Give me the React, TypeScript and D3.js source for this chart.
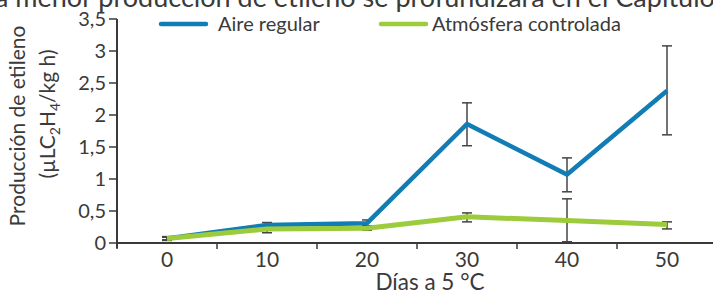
import React from "react";
import * as d3 from "d3";

const days = ["0", "10", "20", "30", "40", "50"];
const aireRegular = [0.07, 0.28, 0.31, 1.86, 1.07, 2.38];
const aireLow = [0.04, 0.22, 0.27, 1.52, 0.8, 1.69];
const aireHigh = [0.1, 0.32, 0.36, 2.19, 1.33, 3.08];
const atmosfera = [0.07, 0.22, 0.23, 0.41, 0.35, 0.29];
const atmLow = [0.05, 0.16, 0.2, 0.33, 0.02, 0.22];
const atmHigh = [0.09, 0.27, 0.26, 0.47, 0.69, 0.33];
const yTicks = [0, 0.5, 1, 1.5, 2, 2.5, 3, 3.5];

const W = 713;
const H = 292;
const BLUE = "#117db4";
const GREEN = "#9ccb3b";
const INK = "#3a3a3a";
const FONT = "Lato, 'Noto Sans', sans-serif";

const fmt = d3.formatLocale({ decimal: ",", thousands: ".", grouping: [3], currency: ["", "€"] }).format("~g");

const App: React.FC = () => {
  const x = d3.scaleBand<string>().domain(days).range([117, 717]).padding(0);
  const y = d3.scaleLinear().domain([0, 3.5]).range([243, 19]);
  const cx = (d: string) => (x(d) ?? 0) + x.bandwidth() / 2;

  const line = d3
    .line<number>()
    .x((_, i) => cx(days[i]))
    .y((v) => y(v));

  const series = [
    { name: "Aire regular", values: aireRegular, low: aireLow, high: aireHigh, color: BLUE, w: 4.5 },
    { name: "Atmósfera controlada", values: atmosfera, low: atmLow, high: atmHigh, color: GREEN, w: 5 },
  ];

  return (
    <svg width={W} height={H} style={{ position: "absolute", left: 0, top: 0 }} fontFamily={FONT}>
      <rect width={W} height={H} fill="#fff" />
      {/* cut-off caption above the figure */}
      <text x={-5} y={7} fontSize={27} fill={INK}>
        a menor producción de etileno se profundizará en el Capítulo
      </text>

      {/* y axis */}
      <line x1={117} x2={117} y1={y(3.5)} y2={y(0) + 5} stroke={INK} strokeWidth={2} />
      {yTicks.map((t) => (
        <g key={t}>
          <line x1={109} x2={117} y1={y(t)} y2={y(t)} stroke={INK} strokeWidth={1.5} />
          <text x={106} y={y(t)} dy="0.35em" textAnchor="end" fontSize={20} fill={INK}>
            {fmt(t)}
          </text>
        </g>
      ))}

      {/* x axis */}
      <line x1={117} x2={W} y1={y(0)} y2={y(0)} stroke={INK} strokeWidth={2} />
      {days.map((d) => (
        <g key={d}>
          <line x1={x(d)} x2={x(d)} y1={y(0)} y2={y(0) + 6} stroke={INK} strokeWidth={1.5} />
          <text x={cx(d)} y={267} textAnchor="middle" fontSize={21} fill={INK}>
            {d}
          </text>
        </g>
      ))}
      <text x={430} y={290} textAnchor="middle" fontSize={22.5} fill={INK}>
        Días a 5 °C
      </text>

      {/* y title */}
      <text transform="translate(25,126) rotate(-90)" textAnchor="middle" fontSize={21} fill={INK}>
        Producción de etileno
      </text>
      <text transform="translate(55,114) rotate(-90)" textAnchor="middle" fontSize={21} fill={INK}>
        (µLC<tspan fontSize={14} dy={5}>2</tspan>
        <tspan dy={-5}>H</tspan>
        <tspan fontSize={14} dy={5}>4</tspan>
        <tspan dy={-5}>/kg h)</tspan>
      </text>

      {/* error bars */}
      {series.map((s) =>
        s.values.map((_, i) => {
          const px = cx(days[i]);
          return (
            <g key={s.name + i} stroke="#444" strokeWidth={1.5}>
              <line x1={px} x2={px} y1={y(s.low[i])} y2={y(s.high[i])} />
              <line x1={px - 5} x2={px + 5} y1={y(s.low[i])} y2={y(s.low[i])} />
              <line x1={px - 5} x2={px + 5} y1={y(s.high[i])} y2={y(s.high[i])} />
            </g>
          );
        })
      )}

      {/* lines */}
      {series.map((s) => (
        <path key={s.name} d={line(s.values) ?? ""} fill="none" stroke={s.color} strokeWidth={s.w} strokeLinejoin="miter" />
      ))}

      {/* legend */}
      <line x1={161} x2={206} y1={24} y2={24} stroke={BLUE} strokeWidth={4.5} strokeLinecap="round" />
      <text x={218} y={31} fontSize={20} fill={INK}>
        Aire regular
      </text>
      <line x1={381} x2={426} y1={24} y2={24} stroke={GREEN} strokeWidth={4.5} strokeLinecap="round" />
      <text x={432} y={31} fontSize={20} fill={INK}>
        Atmósfera controlada
      </text>
    </svg>
  );
};

export default App;
